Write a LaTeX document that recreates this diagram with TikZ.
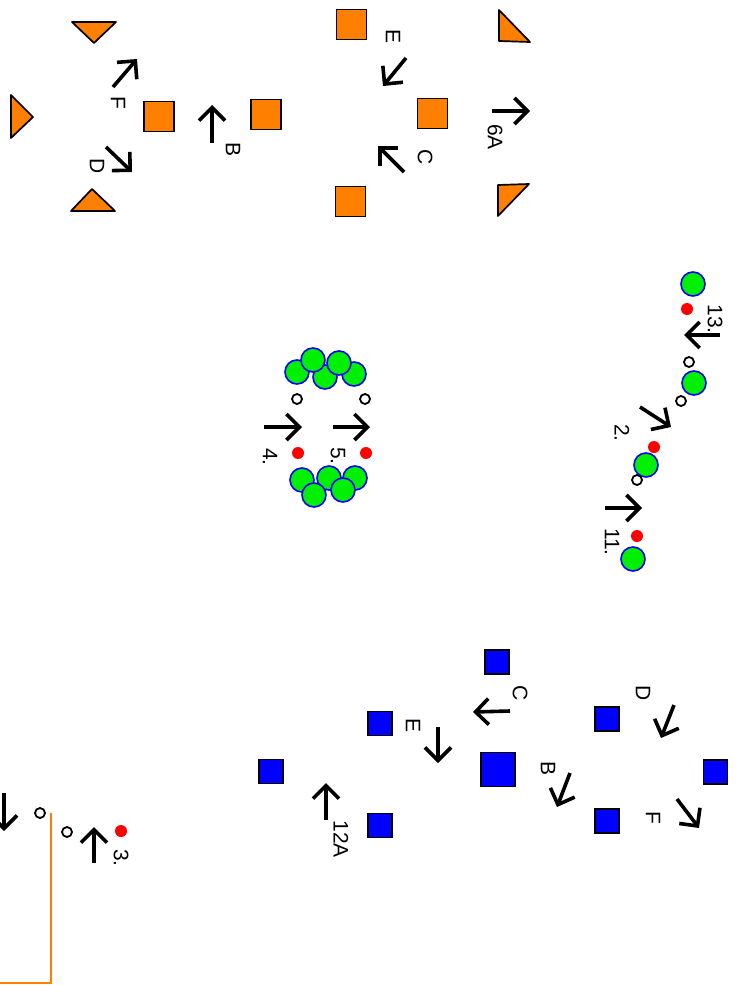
\documentclass[tikz,border=0pt]{standalone}
\usepackage{fontspec}
\setmainfont{Liberation Sans}
\usetikzlibrary{arrows.meta}
\definecolor{fillorange}{RGB}{255,128,0}
\definecolor{fillgreen}{RGB}{0,240,0}
\tikzset{
  osq/.style={draw, line width=1.7pt, fill=fillorange, minimum size=30pt, inner sep=0pt},
  bsq/.style={draw, line width=1.7pt, fill=blue, minimum size=24pt, inner sep=0pt},
  bigsq/.style={bsq, minimum size=34pt},
  ball/.style={circle, draw=blue, line width=1.6pt, fill=fillgreen, minimum size=24pt, inner sep=0pt},
  reddot/.style={circle, fill=red, minimum size=12pt, inner sep=0pt},
  opendot/.style={circle, draw, line width=1.8pt, minimum size=10pt, inner sep=0pt},
  tri/.style={draw, line width=1.7pt, fill=fillorange, line join=round},
  rxn/.style={-{Straight Barb[length=13pt, width=26pt]}, line width=3.6pt},
  lbl/.style={rotate=-90, font=\fontsize{21}{21}\selectfont, inner sep=0pt}
}
\begin{document}
\begin{tikzpicture}[x=1pt, y=-1pt]
  \useasboundingbox (0,0) rectangle (742,985);

  % orange group, top left
  \draw[tri] (72,22) -- (116,22) -- (94,43) -- cycle;
  \draw[tri] (11,95) -- (33,117) -- (11,138) -- cycle;
  \draw[tri] (71,211) -- (115,211) -- (92,189) -- cycle;
  \node[osq] (oa) at (159,116.5) {};
  \node[osq] (ob) at (266,114.5) {};
  \node[osq] (oc) at (351.5,24.5) {};
  \node[osq] (od) at (432.5,113.5) {};
  \node[osq] (oe) at (350.5,201.5) {};
  \draw[tri] (499,10) -- (499,41) -- (530,42) -- cycle;
  \draw[tri] (498,185) -- (529,184) -- (498,216) -- cycle;

  \draw[rxn] (113,87) -- (137,59);
  \node[lbl] (lf) at (118,103) {F};
  \draw[rxn] (106,147) -- (132,172);
  \node[lbl] (ld) at (97,166) {D};
  \draw[rxn] (212,143) -- (212,105);
  \node[lbl] (lb) at (233,150) {B};
  \draw[rxn] (406,58) -- (383,86);
  \node[lbl] (le) at (393,37) {E};
  \draw[rxn] (404,172) -- (378,146);
  \node[lbl] (lc) at (425,157) {C};
  \draw[rxn] (492,111) -- (530,111);
  \node[lbl] (l6a) at (495,137) {6A};

  % green clusters, middle
  \node[ball] (g1) at (297,372) {};
  \node[ball] (g3) at (325,377) {};
  \node[ball] (g5) at (354,374) {};
  \node[ball] (g2) at (313,360) {};
  \node[ball] (g4) at (339,363) {};
  \node[opendot] (p4) at (297,399) {};
  \node[opendot] (p5) at (365,399) {};
  \draw[rxn] (264,427) -- (302,427);
  \draw[rxn] (333,427) -- (370,427);
  \node[lbl] (l4) at (270,457) {4.};
  \node[lbl] (l5) at (338,456) {5.};
  \node[reddot] (r4) at (298,453) {};
  \node[reddot] (r5) at (366,453) {};
  \node[ball] (h1) at (302,480) {};
  \node[ball] (h3) at (329,478) {};
  \node[ball] (h5) at (355,478) {};
  \node[ball] (h2) at (314,495) {};
  \node[ball] (h4) at (343,490) {};

  % green chain, right
  \node[ball] (c13) at (693,284) {};
  \node[reddot] (r13) at (687,309) {};
  \draw[rxn] (720,335) -- (684,335);
  \node[lbl] (l13) at (715,319) {13.};
  \node[opendot] (p13) at (689,362) {};
  \node[ball] (c2) at (694,383) {};
  \node[opendot] (p2) at (681,401) {};
  \draw[rxn] (640,407) -- (671,427);
  \node[lbl] (l2) at (622,433) {2.};
  \node[reddot] (r2) at (654,447) {};
  \node[ball] (c11) at (646,465) {};
  \node[opendot] (p11) at (637,480) {};
  \draw[rxn] (605,508) -- (642,508);
  \node[lbl] (l11) at (612,542) {11.};
  \node[reddot] (r11) at (637,536) {};
  \node[ball] (c12) at (633,559) {};

  % blue group, bottom right
  \node[bsq] (ba) at (497,662) {};
  \node[bsq] (bb) at (380,723.5) {};
  \node[bsq] (bc) at (271,771.5) {};
  \node[bsq] (bd) at (380,825.5) {};
  \node[bsq] (be) at (607,719) {};
  \node[bsq] (bf) at (607,821) {};
  \node[bsq] (bg) at (715.5,772) {};
  \node[bigsq] (bh) at (498,769.5) {};

  \draw[rxn] (510,711) -- (473,712);
  \node[lbl] (lbc) at (520,693) {C};
  \draw[rxn] (438,727) -- (438,763);
  \node[lbl] (lbe) at (413,725) {E};
  \draw[rxn] (326,820) -- (326,783);
  \node[lbl] (l12a) at (341,839) {12A};
  \draw[rxn] (674,705) -- (661,738);
  \node[lbl] (lbd) at (643,693) {D};
  \draw[rxn] (570,773) -- (557,807);
  \node[lbl] (lbb) at (548,768) {B};
  \draw[rxn] (677,799) -- (699,828);
  \node[lbl] (lbf) at (653,818) {F};

  % bottom left corner
  \draw[rxn] (4,793) -- (4,831);
  \node[opendot] (q1) at (40,813) {};
  \draw[fillorange, line width=1.6pt] (51,813) -- (51,983) -- (0,983);
  \node[opendot] (q2) at (67,832) {};
  \draw[rxn] (94,863) -- (94,827);
  \node[reddot] (r3) at (121,831) {};
  \node[lbl] (l3) at (121,858) {3.};
\end{tikzpicture}
\end{document}
